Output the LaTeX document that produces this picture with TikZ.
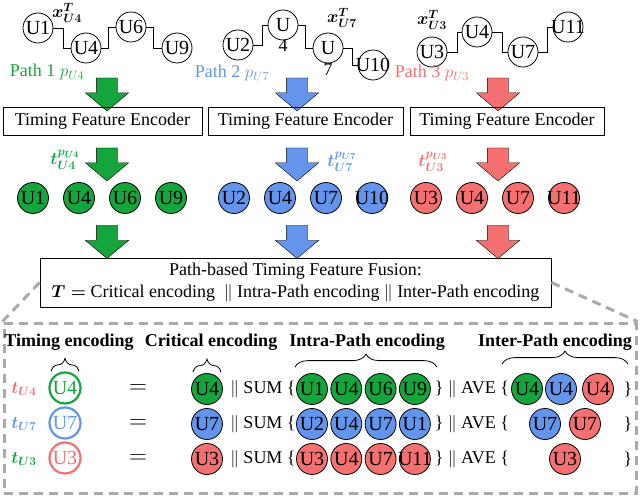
\documentclass[tikz,border=0pt]{standalone}
\usepackage{amsmath}
\usepackage{fontspec}
\setmainfont{Liberation Serif}
\usetikzlibrary{positioning, shapes.arrows, decorations.pathreplacing, calc}

\definecolor{pgreen}{RGB}{20,165,60}
\definecolor{pblue}{RGB}{100,149,237}
\definecolor{pred}{RGB}{245,112,112}
\definecolor{zoomgray}{RGB}{170,170,170}
\newcommand{\olap}[1]{\makebox[0pt]{#1}}

\begin{document}
\begin{tikzpicture}[x=1pt, y=-1pt, node distance=46pt, on grid,
    font=\fontsize{18}{20}\selectfont,
    unode/.style={circle, draw, thick, minimum size=30pt, inner sep=0pt, font=\fontsize{20}{22}\selectfont},
    fnode/.style={circle, draw, thick, fill=#1, minimum size=31pt, inner sep=0pt, font=\fontsize{20}{22}\selectfont},
    onode/.style={circle, draw=#1, line width=2.2pt, text=#1, minimum size=31pt, inner sep=0pt, font=\fontsize{20}{22}\selectfont},
    encbox/.style={draw, thick, minimum width=195pt, minimum height=28pt, inner sep=0pt},
    fatarr/.style={single arrow, draw, fill=#1, minimum height=33pt, minimum width=43pt,
        inner sep=10.5pt, single arrow head extend=11pt, single arrow tip angle=100,
        shape border rotate=270},
    zline/.style={draw=zoomgray, line width=3pt, dash pattern=on 9pt off 6pt},
    hdr/.style={font=\fontsize{18}{20}\selectfont\bfseries},
    ebrace/.style={decorate, decoration={brace, amplitude=13pt}, thick}]
    \useasboundingbox (0,0) rectangle (640,497);

    % three timing paths
    \node[unode] (u1a) at (38,28) {U1};
    \node[unode] (u1b) at (86,48) {U4};
    \node[unode] (u1c) at (131,27) {U6};
    \node[unode] (u1d) at (177,48) {U9};
    \node (x1) at (67,13) {$\boldsymbol{x_{U4}^{T}}$};
    \draw[thick] (u1a.east) -- ++(10,0) |- (u1b.west);
    \draw[thick] (u1b.east) -- ++(7,0) |- (u1c.west);
    \draw[thick] (u1c.east) -- ++(7,0) |- (u1d.west);

    \node[unode] (u2a) at (238,45) {U2};
    \node[unode, label={[inner sep=0pt, label distance=-1pt]below:4}] (u2b) at (283,25) {U};
    \node[unode, label={[inner sep=0pt]below:7}] (u2c) at (328,48) {U};
    \node[unode] (u2d) at (373,65) {\olap{U10}};
    \node (x2) at (342,18) {$\boldsymbol{x_{U7}^{T}}$};
    \draw[thick] (u2a.east) -- ++(9,0) |- (u2b.west);
    \draw[thick] (u2b.east) -- ++(7,0) |- (u2c.west);
    \draw[thick] (u2c.east) -- ++(9,0) |- (u2d.west);

    \node[unode] (u3a) at (432,52) {U3};
    \node[unode] (u3b) at (477,32) {U4};
    \node[unode] (u3c) at (523,52) {U7};
    \node[unode] (u3d) at (568,27) {\olap{U11}};
    \node (x3) at (432,20) {$\boldsymbol{x_{U3}^{T}}$};
    \draw[thick] (u3a.east) -- ++(10,0) |- (u3b.west);
    \draw[thick] (u3b.east) -- ++(10,0) |- (u3c.west);
    \draw[thick] (u3c.east) -- ++(9,0) |- (u3d.west);

    \node[text=pgreen] (pa) at (47,72) {Path 1 $p_{U4}$};
    \node[text=pblue] (pb) at (232,73) {Path 2 $p_{U7}$};
    \node[text=pred] (pc) at (432,73) {Path 3 $p_{U3}$};

    % encoders
    \node[fatarr=pgreen] (ga1) at (107,90) {};
    \node[fatarr=pblue] (ba1) at (297,90) {};
    \node[fatarr=pred] (ra1) at (498,90) {};
    \node[encbox, minimum width=199pt] (enc1) at (102.5,121) {Timing Feature Encoder};
    \node[encbox] (enc2) at (305.5,121) {Timing Feature Encoder};
    \node[encbox, minimum width=194pt] (enc3) at (507,121) {Timing Feature Encoder};
    \node[fatarr=pgreen] (ga2) at (107,160) {};
    \node[fatarr=pblue] (ba2) at (297,160) {};
    \node[fatarr=pred] (ra2) at (498,160) {};
    \node[text=pgreen] (tg) at (65,160) {$\boldsymbol{t_{U4}^{p_{U4}}}$};
    \node[text=pblue] (tb) at (342,162) {$\boldsymbol{t_{U7}^{p_{U7}}}$};
    \node[text=pred] (tr) at (433,162) {$\boldsymbol{t_{U3}^{p_{U3}}}$};

    % encoded nodes
    \node[fnode=pgreen] (m1a) at (33,198) {U1};
    \node[fnode=pgreen] (m1b) [right=of m1a] {U4};
    \node[fnode=pgreen] (m1c) [right=of m1b] {U6};
    \node[fnode=pgreen] (m1d) [right=of m1c] {U9};
    \node[fnode=pblue] (m2a) at (234,198) {U2};
    \node[fnode=pblue] (m2b) [right=of m2a] {U4};
    \node[fnode=pblue] (m2c) [right=of m2b] {U7};
    \node[fnode=pblue] (m2d) [right=of m2c] {\olap{U10}};
    \node[fnode=pred] (m3a) at (426,198) {U3};
    \node[fnode=pred] (m3b) [right=of m3a] {U4};
    \node[fnode=pred] (m3c) [right=of m3b] {U7};
    \node[fnode=pred] (m3d) [right=of m3c] {\olap{U11}};

    \node[fatarr=pgreen] (ga3) at (107,237.5) {};
    \node[fatarr=pblue] (ba3) at (297,237.5) {};
    \node[fatarr=pred] (ra3) at (498,237.5) {};

    % fusion
    \node[draw, thick, minimum width=511pt, minimum height=49pt, align=center, inner sep=2pt,
        font=\fontsize{18}{22}\selectfont] (fuse) at (295.5,282.5)
        {Path-based Timing Feature Fusion:\\
         $\boldsymbol{T=}$ Critical encoding \ $\|$ Intra-Path encoding $\|$ Inter-Path encoding};
    \node[zline, minimum width=632pt, minimum height=170pt] (zoom) at (320,408) {};
    \draw[zline] (fuse.west) -- (zoom.north west);
    \draw[zline] (fuse.east) -- (zoom.north east);

    \node[hdr] (h1) at (69,342) {Timing encoding};
    \node[hdr] (h2) at (211,342) {Critical encoding};
    \node[hdr] (h3) at (367,342) {Intra-Path encoding};
    \node[hdr] (h4) at (555,342) {Inter-Path encoding};

    \node[text=pred] (t1) at (24,389) {$\boldsymbol{t_{U4}}$};
    \node[text=pblue] (t2) at (24,424) {$\boldsymbol{t_{U7}}$};
    \node[text=pgreen] (t3) at (24,459) {$\boldsymbol{t_{U3}}$};
    \node[onode=pgreen] (o1) at (65,388) {U4};
    \node[onode=pblue] (o2) at (65,423) {U7};
    \node[onode=pred] (o3) at (65,458) {U3};
    \node[font=\fontsize{23}{24}\selectfont] (q1) at (138,389) {$=$};
    \node[font=\fontsize{23}{24}\selectfont] (q2) at (138,424) {$=$};
    \node[font=\fontsize{23}{24}\selectfont] (q3) at (138,459) {$=$};

    \node[fnode=pgreen] (k1) at (207,389) {U4};
    \node[fnode=pblue] (k2) at (207,424) {U7};
    \node[fnode=pred] (k3) at (207,459) {U3};
    \node (s1) at (263,389) {$\|$ SUM \{};
    \node (s2) at (263,424) {$\|$ SUM \{};
    \node (s3) at (263,459) {$\|$ SUM \{};

    \node[fnode=pgreen] (i1a) at (312,389) {U1};
    \node[fnode=pgreen] (i1b) [right=34.3pt of i1a] {U4};
    \node[fnode=pgreen] (i1c) [right=34.3pt of i1b] {U6};
    \node[fnode=pgreen] (i1d) [right=34.3pt of i1c] {U9};
    \node[fnode=pblue] (i2a) at (312,424) {U2};
    \node[fnode=pblue] (i2b) [right=34.3pt of i2a] {U4};
    \node[fnode=pblue] (i2c) [right=34.3pt of i2b] {U7};
    \node[fnode=pblue] (i2d) [right=34.3pt of i2c] {U1};
    \node[fnode=pred] (i3a) at (312,459) {U3};
    \node[fnode=pred] (i3b) [right=34.3pt of i3a] {U4};
    \node[fnode=pred] (i3c) [right=34.3pt of i3b] {U7};
    \node[fnode=pred] (i3d) [right=34.3pt of i3c] {\olap{U11}};
    \node (v1) at (472,389) {\} $\|$ AVE \{};
    \node (v2) at (472,424) {\} $\|$ AVE \{};
    \node (v3) at (472,459) {\} $\|$ AVE \{};

    \node[fnode=pgreen] (j1a) at (527,389) {U4};
    \node[fnode=pblue] (j1b) at (561,389) {U4};
    \node[fnode=pred] (j1c) at (598,389) {U4};
    \node[fnode=pblue] (j2a) at (545,424) {U7};
    \node[fnode=pred] (j2b) at (585,424) {U7};
    \node[fnode=pred] (j3a) at (565,459) {U3};
    \node (w1) at (628,389) {\}};
    \node (w2) at (628,424) {\}};
    \node (w3) at (628,459) {\}};

    \draw[ebrace] ([xshift=-14pt]o1.north) -- ([xshift=14pt]o1.north);
    \draw[ebrace] ([xshift=-14pt,yshift=1pt]k1.north) -- ([xshift=14pt,yshift=1pt]k1.north);
    \draw[ebrace] ([xshift=-17pt,yshift=6pt]i1a.north) -- ([xshift=22pt,yshift=6pt]i1d.north);
    \draw[ebrace] ([xshift=-25pt,yshift=9pt]j1a.north) -- ([xshift=30pt,yshift=9pt]j1c.north);
\end{tikzpicture}
\end{document}
